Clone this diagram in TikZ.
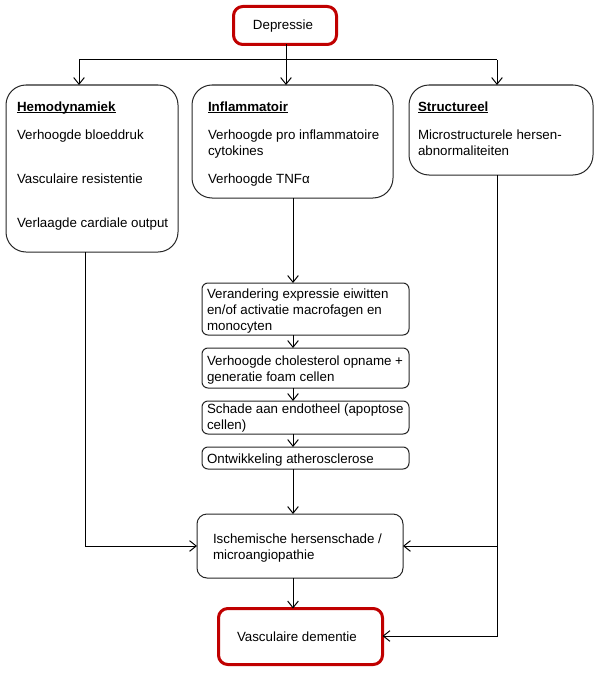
\documentclass[tikz,border=0pt]{standalone}
\usepackage{fontspec}
\setmainfont{Liberation Sans}
\usetikzlibrary{arrows.meta}
\definecolor{dred}{HTML}{C00000}
\newcommand\myul[1]{\setbox0\hbox{#1}\rlap{\rule[-1.4pt]{\wd0}{0.7pt}}\box0}
\begin{document}
\begin{tikzpicture}[x=0.75pt,y=-0.75pt,
  box/.style={draw=black!85, line width=0.75pt, rounded corners=15pt, inner sep=0pt, outer sep=0pt},
  sbox/.style={draw=black!85, line width=0.75pt, rounded corners=4.5pt, inner sep=0pt, outer sep=0pt},
  mbox/.style={draw=black!85, line width=0.75pt, rounded corners=7.5pt, inner sep=0pt, outer sep=0pt},
  redbox/.style={draw=dred, line width=2.25pt, rounded corners=7pt, inner sep=0pt, outer sep=0pt},
  txt/.style={anchor=north west, inner sep=0pt, outer sep=0pt, align=left, font=\fontsize{10}{12}\selectfont},
  conn/.style={line width=0.75pt, draw=black},
  arr/.style={conn, -{Straight Barb[length=5pt,width=8pt,line width=0.75pt]}}
]
\useasboundingbox (0,0) rectangle (599,674);

% boxes
\node[redbox, minimum width=77.25pt, minimum height=28.5pt] (dep) at (285,25.5) {};
\node[box, minimum width=129pt, minimum height=125.25pt] (hemo) at (92,168.5) {};
\node[box, minimum width=150.75pt, minimum height=84.75pt] (inf) at (292.5,141.5) {};
\node[box, minimum width=138pt, minimum height=67.5pt] (str) at (501,130) {};
\node[sbox, minimum width=155.25pt, minimum height=39pt] (b1) at (305.5,309) {};
\node[sbox, minimum width=155.25pt, minimum height=30pt] (b2) at (305.5,368) {};
\node[sbox, minimum width=155.25pt, minimum height=24.75pt] (b3) at (305.5,417.5) {};
\node[sbox, minimum width=155.25pt, minimum height=16.5pt] (b4) at (305.5,458) {};
\node[mbox, minimum width=154.5pt, minimum height=48pt] (isch) at (300,546) {};
\node[redbox, minimum width=123pt, minimum height=42pt] (vd) at (300.5,636.5) {};

% texts
\node[anchor=base, inner sep=0pt, font=\fontsize{10}{12}\selectfont] (depT) at (283,30) {Depressie};
\node[txt] (hemoT) at (17,99.8) {\strut\myul{\textbf{Hemodynamiek}}\\[9pt]
  Verhoogde bloeddruk\\[21pt]
  Vasculaire resistentie\\[21pt]
  Verlaagde cardiale output};
\node[txt] (infT) at (208,99.8) {\strut\myul{\textbf{Inflammatoir}}\\[9pt]
  Verhoogde pro inflammatoire\\
  cytokines\\[9.5pt]
  Verhoogde TNFα};
\node[txt] (strT) at (418,99.8) {\strut\myul{\textbf{Structureel}}\\[9pt]
  Microstructurele hersen-\\
  abnormaliteiten};
\node[txt] (b1T) at (207,286.8) {\strut Verandering expressie eiwitten\\
  en/of activatie macrofagen en\\
  monocyten};
\node[txt] (b2T) at (207,353.8) {\strut Verhoogde cholesterol opname +\\
  generatie foam cellen};
\node[txt] (b3T) at (207,401.8) {\strut Schade aan endotheel (apoptose\\
  cellen)};
\node[txt] (b4T) at (207,451.8) {\strut Ontwikkeling atherosclerose};
\node[txt] (ischT) at (213,531.8) {\strut Ischemische hersenschade /\\
  microangiopathie};
\node[txt] (vdT) at (237,629.8) {\strut Vasculaire dementie};

% connector coordinates
\coordinate (split) at (286,60);
\coordinate (hL) at (79,60);
\coordinate (hR) at (497,60);
\coordinate (cx) at (293,0);
\coordinate (hB) at (85,546);
\coordinate (sB) at (497,636);
\coordinate (sJ) at (497,546);

% connectors
\draw[arr] (dep.south -| split) -- (split |- inf.north);
\draw[conn] (hL) -- (hR);
\draw[arr] (hL) -- (hL |- hemo.north);
\draw[arr] (hR) -- (hR |- str.north);

\draw[arr] (cx |- inf.south) -- (cx |- b1.north);
\draw[arr] (cx |- b1.south) -- (cx |- b2.north);
\draw[arr] (cx |- b2.south) -- (cx |- b3.north);
\draw[arr] (cx |- b3.south) -- (cx |- b4.north);
\draw[arr] (cx |- b4.south) -- (cx |- isch.north);
\draw[arr] (cx |- isch.south) -- (cx |- vd.north);

\draw[arr] (hB |- hemo.south) -- (hB) -- (isch.west);
\draw[arr] (sB |- str.south) -- (sB) -- (sB -| vd.east);
\draw[arr] (sJ) -- (isch.east);
\end{tikzpicture}
\end{document}
